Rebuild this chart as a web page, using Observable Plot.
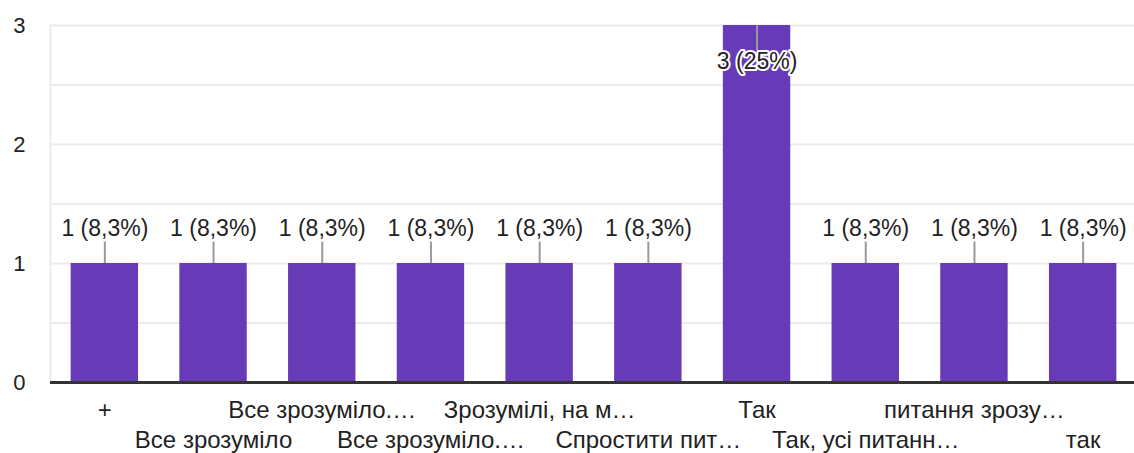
<!DOCTYPE html>
<html>
<head>
<meta charset="utf-8">
<script src="https://cdn.jsdelivr.net/npm/d3@7"></script>
<script src="https://cdn.jsdelivr.net/npm/@observablehq/plot@0.6"></script>
<style>
  html, body { margin: 0; padding: 0; background: #fff; }
  svg { display: block; }
</style>
</head>
<body>
<div id="chart"></div>
<script>
const categories = ["+", "Все зрозуміло", "Все зрозуміло.…", "Все зрозуміло.…", "Зрозумілі, на м…", "Спростити пит…", "Так", "Так, усі питанн…", "питання зрозу…", "так"];
const counts = [1, 1, 1, 1, 1, 1, 3, 1, 1, 1];
const yTicks = [0, 1, 2, 3];
const gridValues = [0.5, 1, 1.5, 2, 2.5, 3];

const total = d3.sum(counts);
const fmtPct = v => {
  const p = Math.round(v / total * 1000) / 10;
  const s = Number.isInteger(p) ? String(p) : p.toFixed(1).replace(".", ",");
  return s + "%";
};
const maxCount = d3.max(counts);
const data = counts.map((c, i) => ({i, c, label: `${c} (${fmtPct(c)})`, inside: c === maxCount}));
const idx = d3.range(categories.length);
const even = idx.filter(i => i % 2 === 0);
const odd = idx.filter(i => i % 2 === 1);
const font = "'Liberation Sans', Arial, sans-serif";

const chart = Plot.plot({
  width: 1134,
  height: 453,
  marginLeft: 50,
  marginRight: 0,
  marginTop: 25,
  marginBottom: 71,
  style: {fontFamily: font, background: "#fff", color: "#222"},
  x: {domain: idx, range: [50, 1137], round: false, paddingInner: 0.38, paddingOuter: 0.19, axis: null},
  y: {domain: [0, 3], axis: null},
  marks: [
    Plot.gridY(gridValues, {stroke: "#ebebeb", strokeOpacity: 1, strokeWidth: 2}),
    Plot.frame({anchor: "left", stroke: "#ebebeb", strokeWidth: 2}),
    Plot.barY(data, {x: "i", y: "c", fill: "#673ab7"}),
    Plot.ruleY([0], {stroke: "#333", strokeWidth: 3}),
    Plot.ruleX(data.filter(d => !d.inside), {x: "i", y1: "c", y2: d => d.c + 0.18, stroke: "#999", strokeWidth: 2}),
    Plot.ruleX(data.filter(d => d.inside), {x: "i", y1: "c", y2: d => d.c - 0.21, stroke: "#999", strokeWidth: 2}),
    Plot.text(data.filter(d => !d.inside), {x: "i", y: "c", text: "label", dy: -35, fontSize: 23, fill: "#222"}),
    Plot.text(data.filter(d => d.inside), {x: "i", y: "c", text: "label", dy: 36, fontSize: 23, fill: "#222", stroke: "white", strokeWidth: 4}),
    Plot.axisY(yTicks, {tickSize: 0, tickPadding: 25, fontSize: 22, fill: "#222", label: null, tickFormat: d => String(d)}),
    Plot.axisX(even, {tickSize: 0, tickPadding: 18, fontSize: 24, fill: "#222", label: null, tickFormat: i => categories[i]}),
    Plot.axisX(odd, {tickSize: 0, tickPadding: 48, fontSize: 24, fill: "#222", label: null, tickFormat: i => categories[i]})
  ]
});
document.getElementById("chart").appendChild(chart);
</script>
</body>
</html>
